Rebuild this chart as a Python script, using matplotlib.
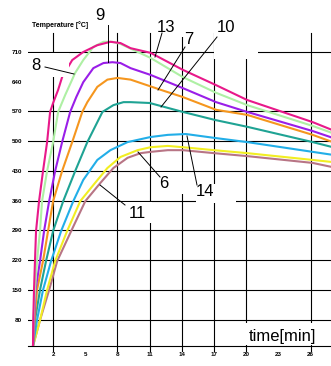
import matplotlib
matplotlib.use("Agg")
import matplotlib.pyplot as plt
from matplotlib.patches import Rectangle
from matplotlib.lines import Line2D

# размер картинки в пикселях
W, H = 331, 366

# Кривые нагрева: время [мин] и температура [°C]
t_13 = [0.125, 0.15, 0.22, 0.31, 0.41, 0.69, 1.06, 1.44, 1.72, 2.0, 2.47, 2.84, 3.78, 4.81, 6.12,
        7.34, 8.28, 9.22, 11.09, 14.09, 17.19, 20.09, 26.19, 28.06]
T_13 = [18, 79, 150, 218, 289, 359, 430, 498, 569, 590, 621, 651, 691, 710, 726,
        734, 731, 719, 708, 668, 632, 597, 545, 526]

t_8 = [0.125, 0.17, 0.31, 0.5, 0.78, 0.97, 1.44, 2.0, 2.47, 3.13, 4.06, 4.81, 5.75, 6.69, 7.53,
       8.28, 11.09, 14.09, 17.19, 20.09, 26.19, 28.06]
T_8 = [18, 79, 150, 218, 289, 359, 430, 498, 569, 609, 661, 691, 722, 734, 734,
       729, 696, 651, 614, 585, 536, 519]

t_9 = [0.125, 0.22, 0.36, 0.78, 1.16, 1.63, 2.19, 2.84, 3.59, 4.16, 4.81, 5.75, 6.69, 7.53, 8.28,
       9.22, 11.09, 14.09, 17.19, 20.09, 26.19, 28.06]
T_9 = [18, 79, 150, 218, 289, 359, 430, 498, 569, 604, 639, 672, 684, 686, 684,
       672, 656, 625, 592, 569, 524, 508]

t_7 = [0.125, 0.27, 0.5, 1.06, 1.53, 2.0, 2.84, 3.78, 4.72, 5.19, 6.12, 7.06, 8.0, 9.22, 12.03,
       14.09, 17.19, 20.09, 26.19, 28.06]
T_7 = [18, 79, 150, 218, 289, 359, 430, 498, 569, 592, 628, 645, 649, 645, 621,
       604, 574, 562, 515, 498]

t_10 = [0.125, 0.31, 0.78, 1.34, 2.0, 2.94, 4.06, 5.19, 6.6, 7.62, 8.56, 9.22, 11.0, 14.09, 17.1,
        20.09, 26.19, 28.06]
T_10 = [18, 79, 150, 218, 289, 359, 430, 498, 569, 585, 592, 592, 590, 569, 550,
        534, 498, 486]

t_14 = [0.125, 0.5, 1.06, 1.81, 2.75, 3.88, 4.81, 6.12, 7.34, 8.94, 11.09, 12.69, 14.37, 17.0,
        20.09, 26.19, 28.06]
T_14 = [18, 79, 150, 218, 289, 359, 409, 456, 479, 498, 510, 515, 517, 508,
        498, 475, 468]

t_6 = [0.125, 0.78, 1.44, 2.19, 3.31, 4.53, 5.75, 7.06, 8.28, 9.87, 11.09, 12.69, 14.09, 17.0,
       20.09, 26.19, 28.06]
T_6 = [18, 79, 150, 218, 289, 359, 397, 437, 463, 479, 486, 489, 486, 479,
       472, 456, 451]

t_11 = [0.125, 0.78, 1.63, 2.38, 3.69, 5.0, 6.41, 7.62, 8.94, 10.16, 11.09, 12.69, 14.09, 17.0,
        20.09, 26.19, 28.06]
T_11 = [18, 79, 150, 218, 289, 359, 402, 437, 461, 472, 475, 479, 479, 472,
        465, 449, 439]

# Деления осей
x_ticks = [2, 5, 8, 11, 14, 17, 20, 23, 26]
y_ticks = [80, 150, 220, 290, 360, 430, 500, 570, 640, 710]
x_grid = [2, 8, 11, 14, 17, 20, 26]
y_grid = [80, 150, 220, 290, 360, 430, 500, 570, 710]


def fx(x):
    return x / W


def fy(y):
    return 1 - y / H


fig = plt.figure(figsize=(W / 100, H / 100), dpi=100)
ax = fig.add_axes([fx(28), fy(346), (331 - 28) / W, (346 - 33) / H])
ax.set_xlim(-0.34, 27.9)
ax.set_ylim(18.2, 754.7)

# сетка (не все линии, как в оригинале)
for x in x_grid:
    ax.axvline(x, ymin=-0.016, ymax=1, color='black', lw=0.8, clip_on=False, zorder=1)
for y in y_grid:
    ax.axhline(y, color='black', lw=0.8, zorder=1)

curves = [
    (t_11, T_11, '#b87585'),
    (t_6, T_6, '#f2ee22'),
    (t_14, T_14, '#22aee8'),
    (t_10, T_10, '#1fa394'),
    (t_7, T_7, '#f5961e'),
    (t_9, T_9, '#9a1ee8'),
    (t_8, T_8, '#aef0a4'),
    (t_13, T_13, '#e8198a'),
]
for t, T, c in curves:
    ax.plot(t, T, color=c, lw=1.5, zorder=3, solid_joinstyle='round')

for s in ['left', 'right', 'top']:
    ax.spines[s].set_visible(False)
ax.spines['bottom'].set_linewidth(0.8)

ax.set_xticks(x_ticks)
ax.set_xticklabels([str(v) for v in x_ticks], fontsize=4.5, weight='bold', family='Liberation Sans')
ax.set_yticks(y_ticks)
ax.set_yticklabels([str(v) for v in y_ticks], fontsize=4.5, weight='bold', family='Liberation Sans')
ax.tick_params(axis='x', length=0, pad=4.5)
ax.tick_params(axis='y', length=0, pad=4.3)

# белые подложки под подписями
boxes = [(28, 53, 69, 77), (214, 28, 258, 59), (176, 28, 196, 37),
         (152, 172, 186, 194), (196, 184, 236, 203), (118, 202, 152, 223),
         (244, 323, 320, 345)]
for x0, y0, x1, y1 in boxes:
    fig.patches.append(Rectangle((fx(x0), fy(y1)), (x1 - x0) / W, (y1 - y0) / H,
                                 transform=fig.transFigure, fc='white', ec='none', zorder=1))

# выноски
leaders = [((108, 25), (108, 62)), ((162, 33), (155, 57)), ((185, 47), (158, 90)),
           ((217, 37), (161, 107)), ((45, 67), (74, 74)), ((160, 177), (138, 152)),
           ((187, 136), (197, 185)), ((100, 185), (125, 205))]
for (x0, y0), (x1, y1) in leaders:
    fig.add_artist(Line2D([fx(x0), fx(x1)], [fy(y0), fy(y1)], transform=fig.transFigure,
                          color='black', lw=0.7, zorder=2))

labels = [('9', 100, 16), ('13', 166, 27), ('7', 189, 39), ('10', 226, 27),
          ('8', 36, 66), ('6', 164, 184), ('14', 205, 192), ('11', 137, 213)]
for s, x, y in labels:
    fig.text(fx(x), fy(y), s, ha='center', va='center', fontsize=12,
             family='Liberation Sans', zorder=3)

fig.text(fx(282), fy(337), 'time[min]', ha='center', va='center', fontsize=12,
         family='Liberation Sans', zorder=3)
fig.text(fx(32), fy(25), 'Temperature [°C]', ha='left', va='center', fontsize=5,
         weight='bold', family='Liberation Sans', zorder=3)

fig.savefig('out.png', dpi=100)
